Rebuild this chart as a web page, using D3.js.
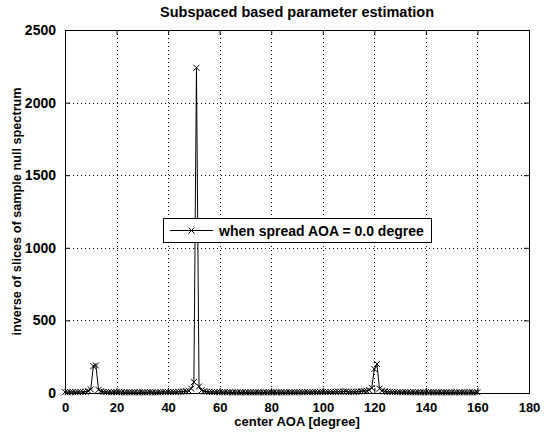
<html>
<head>
<meta charset="utf-8">
<style>
  body { margin: 0; background: #fff; }
  svg { display: block; }
  text { font-family: "Liberation Sans", Arial, sans-serif; font-weight: bold; fill: #000; }
</style>
<script src="https://d3js.org/d3.v7.min.js"></script>
</head>
<body>
<svg id="chart" width="544" height="434"></svg>
<script>
// center AOA, degree (1 degree step)
var angles = d3.range(0, 161);
// inverse of slices of sample null spectrum
var spectrum = [
  6, 5, 6, 7, 5, 6, 8, 7, 9, 14,
  25, 185, 190, 22, 12, 8, 7, 6, 5, 6,
  5, 6, 5, 4, 5, 6, 5, 5, 4, 5,
  5, 4, 5, 6, 5, 4, 5, 6, 7, 6,
  6, 6, 7, 7, 8, 9, 10, 12, 16, 30,
  75, 2240, 45, 18, 12, 9, 8, 7, 6, 6,
  5, 5, 6, 5, 5, 4, 5, 5, 4, 5,
  4, 5, 5, 4, 5, 5, 4, 4, 5, 5,
  4, 5, 4, 5, 5, 4, 5, 6, 5, 5,
  5, 6, 5, 6, 6, 5, 6, 7, 6, 6,
  7, 6, 7, 8, 7, 8, 9, 9, 10, 11,
  7, 8, 8, 9, 10, 11, 13, 15, 20, 35,
  165, 200, 30, 16, 11, 9, 8, 7, 7, 6,
  6, 5, 6, 5, 5, 6, 5, 5, 4, 5,
  5, 4, 5, 5, 4, 5, 4, 5, 5, 4,
  5, 4, 5, 4, 5, 5, 4, 5, 5, 4,
  5
];
var xTicks = [0, 20, 40, 60, 80, 100, 120, 140, 160, 180];
var yTicks = [0, 500, 1000, 1500, 2000, 2500];
var legendLabel = "when spread AOA = 0.0 degree";

var pL = 65, pR = 529, pT = 30, pB = 393;
var svg = d3.select('#chart');

var x = d3.scaleLinear().domain([0, 180]).range([pL, pR]);
var y = d3.scaleLinear().domain([0, 2500]).range([pB, pT]);

// grid
svg.append('g').selectAll('line').data(xTicks.slice(1, -1)).enter().append('line')
   .attr('x1', d => Math.round(x(d)) + 0.5).attr('x2', d => Math.round(x(d)) + 0.5)
   .attr('y1', pT).attr('y2', pB)
   .attr('stroke', '#000').attr('stroke-width', 1).attr('stroke-dasharray', '1,3');
svg.append('g').selectAll('line').data(yTicks.slice(1, -1)).enter().append('line')
   .attr('y1', d => Math.round(y(d)) + 0.5).attr('y2', d => Math.round(y(d)) + 0.5)
   .attr('x1', pL).attr('x2', pR)
   .attr('stroke', '#000').attr('stroke-width', 1).attr('stroke-dasharray', '1,3');

// axes (ticks inside)
var xAxis = d3.axisBottom(x).tickValues(xTicks).tickSizeInner(-5).tickSizeOuter(0).tickPadding(10);
var yAxis = d3.axisLeft(y).tickValues(yTicks).tickFormat(d3.format('d'))
              .tickSizeInner(-5).tickSizeOuter(0).tickPadding(9);
var gx = svg.append('g').attr('transform', 'translate(0,' + pB + ')').call(xAxis);
var gy = svg.append('g').attr('transform', 'translate(' + pL + ',0)').call(yAxis);
[gx, gy].forEach(g => {
  g.select('.domain').remove();
  g.selectAll('text').style('font-family', '"Liberation Sans", Arial, sans-serif').style('font-weight', 'bold');
});
gx.selectAll('text').style('font-size', '13px');
gy.selectAll('text').style('font-size', '14px');
svg.append('g').attr('transform', 'translate(0,' + pT + ')')
   .call(d3.axisTop(x).tickValues(xTicks).tickSizeInner(-5).tickSizeOuter(0).tickFormat(''))
   .select('.domain').remove();
svg.append('g').attr('transform', 'translate(' + pR + ',0)')
   .call(d3.axisRight(y).tickValues(yTicks).tickSizeInner(-5).tickSizeOuter(0).tickFormat(''))
   .select('.domain').remove();

// box
svg.append('rect').attr('x', pL + 0.5).attr('y', pT + 0.5)
   .attr('width', pR - pL).attr('height', pB - pT)
   .attr('fill', 'none').attr('stroke', '#000').attr('stroke-width', 1);

// data line
var pts = angles.map((a, i) => [a, spectrum[i]]);
var line = d3.line().x(d => x(d[0])).y(d => y(d[1]));
svg.append('path').datum(pts).attr('d', line)
   .attr('fill', 'none').attr('stroke', '#000').attr('stroke-width', 1);

function cross(g, cx, cy, s) {
  g.append('path')
   .attr('d', 'M' + (cx - s) + ',' + (cy - s) + 'L' + (cx + s) + ',' + (cy + s) +
              'M' + (cx - s) + ',' + (cy + s) + 'L' + (cx + s) + ',' + (cy - s))
   .attr('stroke', '#000').attr('stroke-width', 1).attr('fill', 'none');
}
var mk = svg.append('g');
pts.forEach(d => cross(mk, x(d[0]), y(d[1]), 3));

// legend
var lg = svg.append('g');
lg.append('rect').attr('x', 163.5).attr('y', 218.5).attr('width', 268).attr('height', 24)
  .attr('fill', '#fff').attr('stroke', '#000').attr('stroke-width', 1);
lg.append('line').attr('x1', 170).attr('x2', 213).attr('y1', 230.5).attr('y2', 230.5)
  .attr('stroke', '#000').attr('stroke-width', 1);
cross(lg, 191.5, 230.5, 3);
lg.append('text').attr('x', 219).attr('y', 235.5).style('font-size', '14px').text(legendLabel);

// titles
svg.append('text').attr('x', (pL + pR) / 2).attr('y', 17).attr('text-anchor', 'middle')
   .style('font-size', '14.5px').text('Subspaced based parameter estimation');
svg.append('text').attr('x', (pL + pR) / 2).attr('y', 426).attr('text-anchor', 'middle')
   .style('font-size', '13px').text('center AOA [degree]');
svg.append('text').attr('transform', 'translate(21,' + (pT + pB) / 2 + ') rotate(-90)')
   .attr('text-anchor', 'middle').style('font-size', '12.7px')
   .text('inverse of slices of sample null spectrum');
</script>
</body>
</html>
